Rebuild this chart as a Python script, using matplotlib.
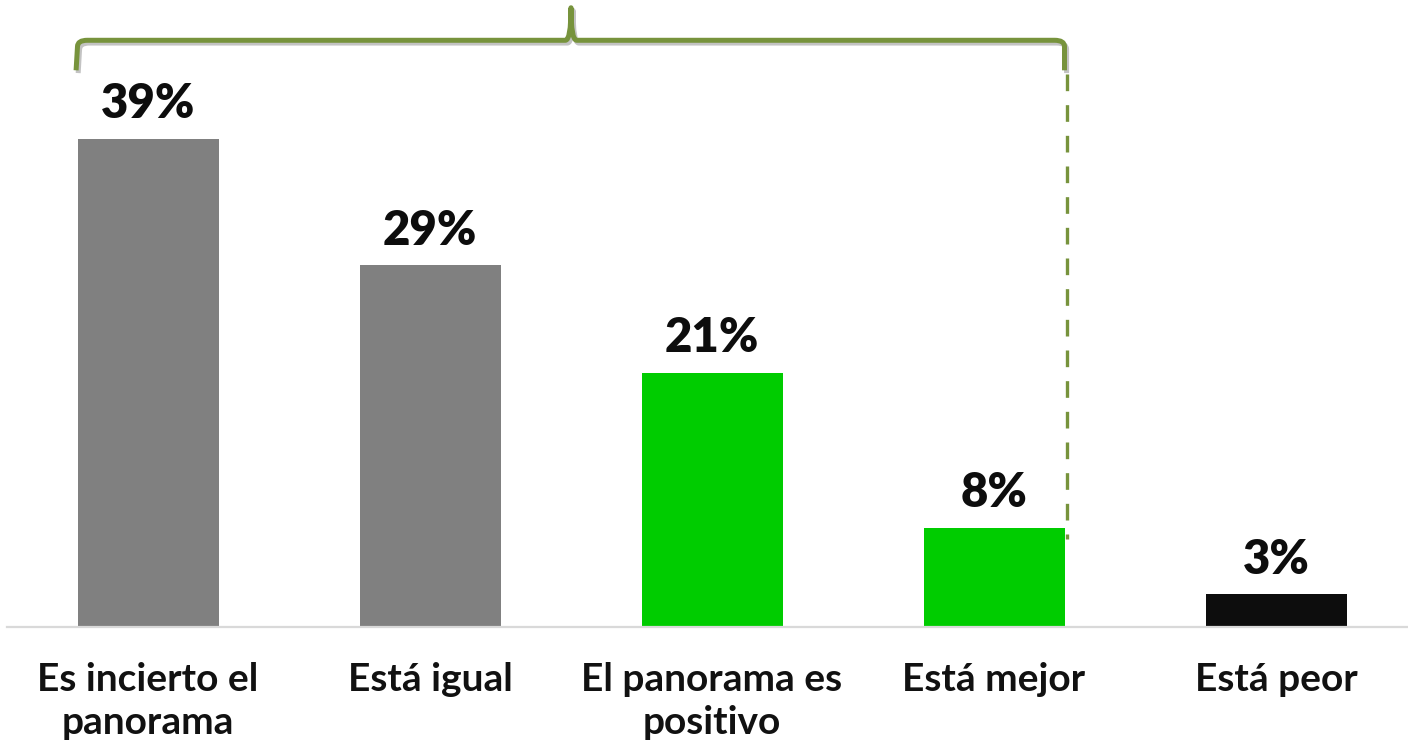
import matplotlib
matplotlib.use("Agg")
import matplotlib.pyplot as plt
from matplotlib.path import Path
from matplotlib.patches import PathPatch
import matplotlib.patheffects as pe

categories = ["Es incierto el\npanorama", "Está igual", "El panorama es\npositivo", "Está mejor", "Está peor"]
bar_heights = [39.0, 28.9, 20.3, 7.9, 2.6]
value_labels = ["39%", "29%", "21%", "8%", "3%"]
bar_colors = ["#808080", "#808080", "#00CC00", "#00CC00", "#0D0D0D"]

FONT = ["Lato", "DejaVu Sans"]
W, H, DPI = 1408, 742, 100
fig = plt.figure(figsize=(W / DPI, H / DPI), dpi=DPI)
ax = fig.add_axes([7 / W, (H - 627) / H, 1410 / W, 627 / H])

xs = list(range(len(categories)))
bar_w = 0.5
ax.bar(xs, bar_heights, width=bar_w, color=bar_colors, zorder=2)
ax.set_xlim(-0.5, len(categories) - 0.5)
ax.set_ylim(0, 627 / 12.51)

for x, h, lab in zip(xs, bar_heights, value_labels):
    ax.annotate(lab, (x, h), xytext=(0, 15), textcoords="offset points",
                ha="center", va="baseline", fontsize=34, fontweight="heavy",
                family=FONT, color="#0D0D0D")

for s in ["top", "right", "left"]:
    ax.spines[s].set_visible(False)
ax.spines["bottom"].set_color("#D9D9D9")
ax.spines["bottom"].set_linewidth(1.6)
ax.set_yticks([])
ax.set_xticks(xs)
ax.set_xticklabels(categories, fontsize=28, fontweight="bold", family=FONT,
                   color="#111111", linespacing=1.3)
ax.tick_params(axis="x", length=0, pad=25)

# brace over first four bars
xl = xs[0] - bar_w / 2
xr = xs[3] + bar_w / 2
xm = (xl + xr) / 2
y_h, y_end, y_top = 46.9, 44.5, 49.5
rx, ry = 0.035, 0.5
verts = [
    (xl - 0.005, y_end), (xl, y_h - ry), (xl, y_h), (xl + rx, y_h),
    (xm - 0.02, y_h), (xm, y_h), (xm, y_top), (xm, y_h), (xm + 0.02, y_h),
    (xr - rx, y_h), (xr, y_h), (xr, y_h - ry), (xr, y_end),
]
codes = [
    Path.MOVETO, Path.LINETO, Path.CURVE3, Path.CURVE3,
    Path.LINETO, Path.CURVE3, Path.CURVE3, Path.CURVE3, Path.CURVE3,
    Path.LINETO, Path.CURVE3, Path.CURVE3, Path.LINETO,
]
brace = PathPatch(Path(verts, codes), facecolor="none", edgecolor="#77933C",
                  lw=3.6, capstyle="butt", joinstyle="round", clip_on=False,
                  path_effects=[pe.SimpleLineShadow(offset=(1.5, -2), shadow_color="#888888", alpha=0.5),
                                pe.Normal()], zorder=3)
ax.add_patch(brace)

ax.plot([xr + 0.01, xr + 0.01], [44.2, 7.0], color="#77933C", lw=2.4, dashes=[5, 4.2],
        clip_on=False, zorder=3)

fig.savefig("out.png", dpi=DPI)
